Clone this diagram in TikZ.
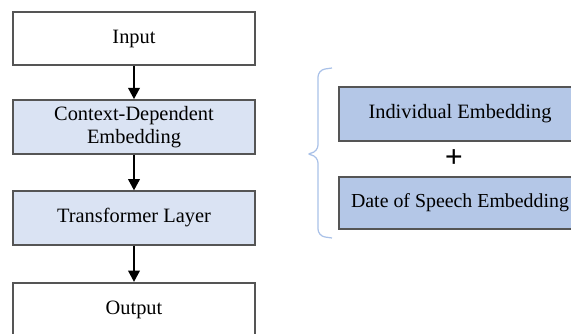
\documentclass[tikz,border=0pt]{standalone}
\usepackage{fontspec}
\setmainfont{Liberation Serif}
\usepackage{tikz}
\usetikzlibrary{arrows.meta}

\definecolor{lightfill}{HTML}{DAE3F3}
\definecolor{darkfill}{HTML}{B4C7E7}
\definecolor{boxline}{HTML}{555555}
\definecolor{bracecol}{HTML}{A9C1E8}

\tikzset{
  block/.style={draw=boxline, line width=0.9pt, minimum width=4.84cm,
    minimum height=1.07cm, align=center, font=\fontsize{11.6}{13.5}\selectfont},
  flow/.style={-{Triangle[width=6.5pt,length=6.5pt]}, line width=1.4pt}
}

\begin{document}
\begin{tikzpicture}
      \useasboundingbox (0,0) rectangle (11.42,6.66);
      \clip (0,0) rectangle (11.42,6.66);

      % main pipeline
      \node[block, fill=white] (input) at (2.68, 5.89) {Input};
      \node[block, fill=lightfill] (context) at (2.68, 4.12) {Context-Dependent\\Embedding};
      \node[block, fill=lightfill] (transformer) at (2.68, 2.30) {Transformer Layer};
      \node[block, fill=white] (output) at (2.68, 0.47) {Output};

      \draw[flow] (input) -- (context);
      \draw[flow] (context) -- (transformer);
      \draw[flow] (transformer) -- (output);

      % embedding parts
      \node[block, fill=darkfill] (individual) at (9.20, 4.38) {Individual Embedding};
      \node[block, fill=darkfill, minimum height=1.04cm, font=\fontsize{11.3}{13}\selectfont] (date) at (9.20, 2.60) {Date of Speech Embedding};
      \node[font=\fontsize{18}{20}\selectfont\bfseries] (plus) at (9.08, 3.48) {+};

      % brace
      \draw[bracecol, line width=0.7pt, rounded corners=4pt]
        (6.64, 5.30) -- (6.36, 5.26) -- (6.36, 3.62) -- (6.10, 3.58)
        -- (6.36, 3.54) -- (6.36, 1.94) -- (6.64, 1.90);
    \end{tikzpicture}
\end{document}
